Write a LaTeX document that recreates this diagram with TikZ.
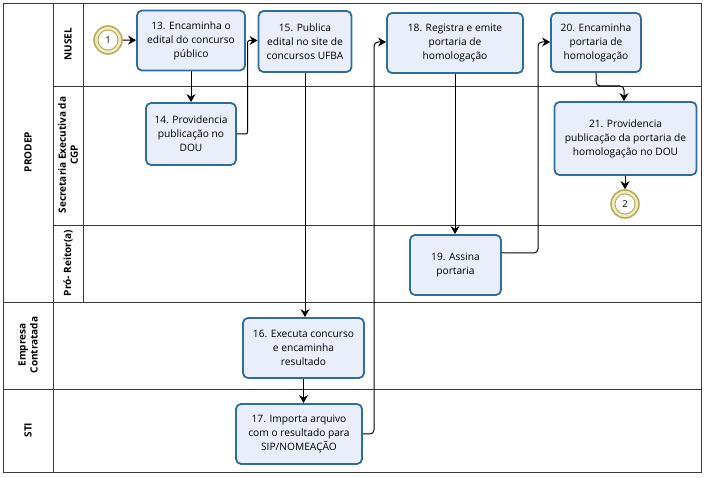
\documentclass[tikz,border=0pt]{standalone}
\usepackage{fontspec}
\setmainfont{Open Sans}
\usetikzlibrary{arrows.meta,positioning}
\definecolor{taskfill}{HTML}{E8EEFA}
\definecolor{taskline}{HTML}{2F6E9C}
\definecolor{evline}{HTML}{B9AE5C}
\definecolor{evring}{HTML}{EEEAC3}
\definecolor{poolline}{HTML}{3A3A3A}
\begin{document}
\begin{tikzpicture}[x=1pt,y=-1pt,
  task/.style={draw=taskline, line width=1.8pt, fill=taskfill, rounded corners=5pt, align=center, inner sep=0pt, font=\fontsize{10.2}{14}\selectfont},
  evouter/.style={circle, draw=evline, line width=1.6pt, fill=evring, minimum size=28pt, inner sep=0pt},
  evinner/.style={circle, draw=evline, line width=1pt, fill=white, minimum size=20pt, inner sep=0pt, font=\fontsize{9.5}{10}\selectfont},
  flow/.style={draw=black, line width=1pt, -{Stealth[length=8pt,width=9pt]}},
  lane/.style={draw=poolline, line width=0.9pt},
  lanelabel/.style={rotate=90, align=center, font=\bfseries\fontsize{10}{12}\selectfont}
]
\useasboundingbox (0,0) rectangle (705,478);
% pools and lanes
\draw[lane] (3,3) rectangle (701,472);
\draw[lane] (53,3) -- (53,472);
\draw[lane] (83,3) -- (83,302);
\draw[lane] (53,86) -- (701,86);
\draw[lane] (53,225) -- (701,225);
\draw[lane] (3,302) -- (701,302);
\draw[lane] (3,389) -- (701,389);
% labels
\node[lanelabel] (lprodep) at (28,152) {PRODEP};
\node[lanelabel] (lnusel) at (68,44) {NUSEL};
\node[lanelabel] (lsec) at (68,155) {Secretaria Executiva da\\CGP};
\node[lanelabel] (lpro) at (68,263) {Pró- Reitor(a)};
\node[lanelabel] (lemp) at (28,345) {Empresa\\Contratada};
\node[lanelabel] (lsti) at (28,430) {STI};
% events
\node[evouter] (s1) at (108,40) {};
\node[evinner] (s1i) at (108,40) {1};
\node[evouter] (e2) at (625,204) {};
\node[evinner] (e2i) at (625,204) {2};
% tasks
\node[task, minimum width=108pt, minimum height=60pt] (t13) at (191,40.5) {13. Encaminha o\\edital do concurso\\público};
\node[task, minimum width=90pt, minimum height=62pt] (t14) at (191,134) {14. Providencia\\publicação no\\DOU};
\node[task, minimum width=93pt, minimum height=61pt] (t15) at (305,41.5) {15. Publica\\edital no site de\\concursos UFBA};
\node[task, minimum width=136pt, minimum height=60pt] (t18) at (455,43) {18. Registra e emite\\portaria de\\homologação};
\node[task, minimum width=90pt, minimum height=59pt] (t20) at (596,42.5) {20. Encaminha\\portaria de\\homologação};
\node[task, minimum width=142pt, minimum height=73pt] (t21) at (625.5,138.5) {21. Providencia\\publicação da portaria de\\homologação no DOU};
\node[task, minimum width=91pt, minimum height=60pt] (t19) at (455.5,265) {19. Assina\\portaria};
\node[task, minimum width=121pt, minimum height=60pt] (t16) at (303.5,348) {16. Executa concurso\\e encaminha\\resultado};
\node[task, minimum width=126pt, minimum height=60pt] (t17) at (299,434) {17. Importa arquivo\\com o resultado para\\SIP/NOMEAÇÃO};
% flows
\draw[flow] (s1) -- (t13);
\draw[flow] (t13.south) -- (t14.north);
\draw[flow, rounded corners=2pt] (t14.east) -| (247.5,40.5) -- (t15.west |- 0,40.5);
\draw[flow] (t15.south) -- (t15.south |- t16.north);
\draw[flow] (t16.south) -- (t16.south |- t17.north);
\draw[flow, rounded corners=4pt] (t17.east) -| (374,42) -- (t18.west |- 0,42);
\draw[flow] (t18.south) -- (t18.south |- t19.north);
\draw[flow, rounded corners=4pt] (t19.east |- 0,253) -| (538,42) -- (t20.west |- 0,42);
\draw[flow, rounded corners=4pt] (t20.south) -- (596,86) -- (624,86) -- (t21.north -| 624,0);
\draw[flow] (t21.south -| e2) -- (e2);
\end{tikzpicture}
\end{document}
